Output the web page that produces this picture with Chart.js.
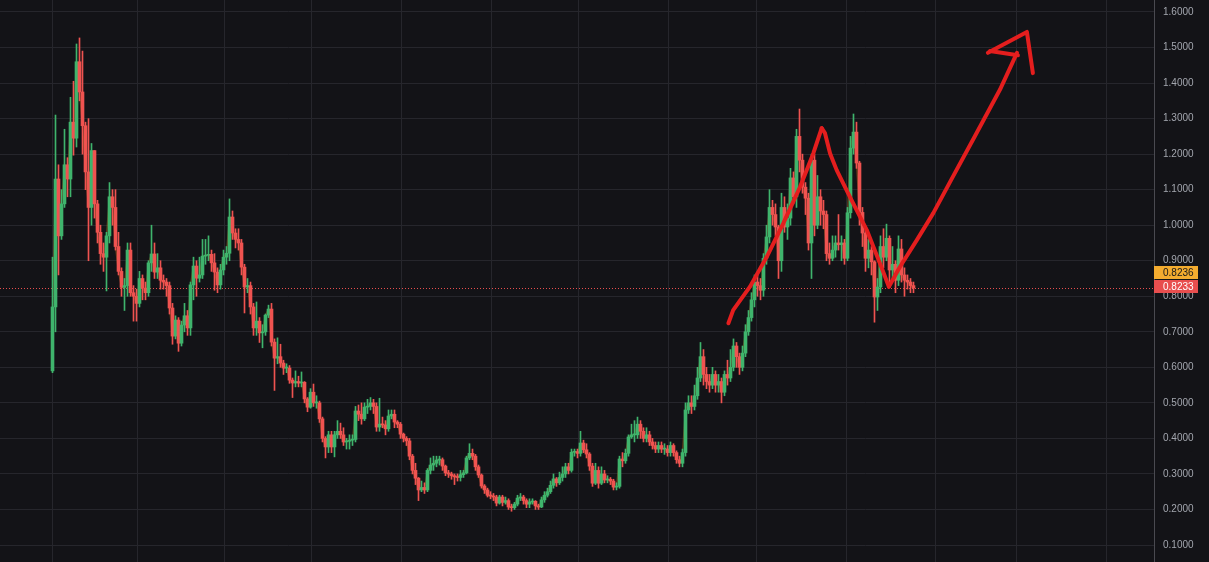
<!DOCTYPE html>
<html>
<head>
<meta charset="utf-8">
<script src="https://cdn.jsdelivr.net/npm/chart.js@4.4.1/dist/chart.umd.min.js"></script>
<style>
  html, body { margin: 0; padding: 0; background: #131317; }
  #wrap { width: 1209px; height: 562px; position: relative; background: #131317; }
</style>
</head>
<body>
<div id="wrap"><canvas id="priceChart"></canvas></div>
<script>
// daily candles (open of each candle = previous close)
const firstOpen = 0.59;
const closes = [
  0.77, 1.13, 0.97, 1.06, 1.17, 1.13, 1.29, 1.245, 1.46, 1.375,
  1.28, 1.15, 1.05, 1.21, 1.06, 0.98, 0.92, 0.91, 0.97, 1.08,
  1.05, 0.94, 0.87, 0.825, 0.83, 0.93, 0.81, 0.80, 0.78, 0.85,
  0.823, 0.81, 0.894, 0.919, 0.868, 0.88, 0.845, 0.84, 0.83, 0.767,
  0.688, 0.733, 0.668, 0.719, 0.745, 0.711, 0.832, 0.885, 0.851, 0.86,
  0.913, 0.915, 0.918, 0.894, 0.868, 0.832, 0.874, 0.91, 0.921, 1.023,
  0.978, 0.96, 0.95, 0.882, 0.826, 0.83, 0.77, 0.711, 0.73, 0.697,
  0.70, 0.747, 0.764, 0.671, 0.626, 0.63, 0.612, 0.598, 0.598, 0.564,
  0.556, 0.56, 0.556, 0.558, 0.511, 0.488, 0.53, 0.50, 0.50, 0.455,
  0.40, 0.376, 0.41, 0.376, 0.41, 0.42, 0.41, 0.39, 0.392, 0.395,
  0.397, 0.477, 0.468, 0.455, 0.488, 0.49, 0.50, 0.49, 0.432, 0.44,
  0.438, 0.427, 0.463, 0.468, 0.446, 0.44, 0.412, 0.40, 0.393, 0.35,
  0.31, 0.288, 0.255, 0.262, 0.255, 0.31, 0.325, 0.33, 0.339, 0.34,
  0.322, 0.303, 0.30, 0.295, 0.292, 0.29, 0.298, 0.303, 0.345, 0.358,
  0.35, 0.32, 0.297, 0.266, 0.255, 0.24, 0.238, 0.235, 0.218, 0.235,
  0.22, 0.225, 0.207, 0.205, 0.215, 0.232, 0.235, 0.225, 0.215, 0.221,
  0.223, 0.21, 0.207, 0.227, 0.24, 0.25, 0.268, 0.286, 0.275, 0.29,
  0.30, 0.32, 0.31, 0.361, 0.363, 0.358, 0.387, 0.368, 0.356, 0.322,
  0.274, 0.31, 0.274, 0.30, 0.283, 0.285, 0.28, 0.263, 0.265, 0.342,
  0.337, 0.358, 0.404, 0.41, 0.41, 0.44, 0.42, 0.40, 0.41, 0.39,
  0.38, 0.37, 0.38, 0.37, 0.37, 0.36, 0.38, 0.36, 0.34, 0.33,
  0.36, 0.48, 0.50, 0.49, 0.52, 0.57, 0.63, 0.58, 0.56, 0.55,
  0.58, 0.55, 0.56, 0.53, 0.58, 0.57, 0.60, 0.66, 0.63, 0.60,
  0.64, 0.70, 0.74, 0.79, 0.84, 0.83, 0.817, 0.907, 0.967, 1.05,
  1.03, 0.995, 0.90, 1.05, 0.995, 1.02, 1.133, 1.08, 1.25, 1.183,
  1.107, 1.076, 0.95, 1.183, 1.0, 1.08, 1.04, 1.03, 0.92, 0.907,
  0.93, 0.95, 0.945, 0.95, 0.907, 1.035, 1.217, 1.262, 1.175, 1.036,
  0.978, 0.907, 0.93, 0.897, 0.798, 0.826, 0.94, 0.91, 0.963, 0.874,
  0.89, 0.845, 0.933, 0.86, 0.845, 0.84, 0.83, 0.8233
];
const highs = [
  0.91, 1.31, 1.17, 1.10, 1.27, 1.19, 1.36, 1.405, 1.51, 1.527,
  1.49, 1.29, 1.30, 1.23, 1.21, 1.07, 1.0, 0.95, 0.98, 1.12,
  1.10, 1.10, 0.98, 0.88, 0.85, 0.95, 0.95, 0.83, 0.82, 0.87,
  0.86, 0.84, 0.90, 1.0, 0.95, 0.92, 0.90, 0.86, 0.85, 0.84,
  0.78, 0.745, 0.74, 0.73, 0.78, 0.76, 0.84, 0.91, 0.90, 0.91,
  0.96, 0.96, 0.97, 0.93, 0.92, 0.88, 0.89, 0.93, 0.94, 1.074,
  1.04, 0.99, 0.99, 0.96, 0.89, 0.85, 0.84, 0.78, 0.784, 0.74,
  0.72, 0.75, 0.775, 0.78, 0.68, 0.683, 0.665, 0.62, 0.61, 0.605,
  0.57, 0.59, 0.575, 0.587, 0.56, 0.515, 0.54, 0.553, 0.52, 0.505,
  0.46, 0.405, 0.42, 0.42, 0.42, 0.45, 0.443, 0.43, 0.40, 0.41,
  0.41, 0.49, 0.494, 0.50, 0.50, 0.51, 0.515, 0.51, 0.50, 0.513,
  0.46, 0.45, 0.48, 0.48, 0.48, 0.45, 0.445, 0.415, 0.405, 0.40,
  0.355, 0.33, 0.29, 0.28, 0.275, 0.315, 0.345, 0.35, 0.35, 0.35,
  0.345, 0.325, 0.31, 0.305, 0.30, 0.30, 0.31, 0.31, 0.35, 0.385,
  0.37, 0.355, 0.325, 0.30, 0.27, 0.26, 0.25, 0.245, 0.24, 0.24,
  0.24, 0.235, 0.23, 0.215, 0.22, 0.24, 0.245, 0.24, 0.23, 0.23,
  0.23, 0.225, 0.215, 0.235, 0.25, 0.26, 0.28, 0.30, 0.29, 0.305,
  0.32, 0.33, 0.33, 0.37, 0.37, 0.37, 0.42, 0.395, 0.385, 0.36,
  0.33, 0.33, 0.32, 0.32, 0.31, 0.295, 0.29, 0.285, 0.275, 0.35,
  0.36, 0.37, 0.41, 0.44, 0.45, 0.46, 0.45, 0.43, 0.43, 0.42,
  0.40, 0.39, 0.39, 0.39, 0.385, 0.38, 0.39, 0.385, 0.365, 0.35,
  0.37, 0.50, 0.52, 0.52, 0.55, 0.60, 0.67, 0.65, 0.60, 0.58,
  0.60, 0.59, 0.58, 0.57, 0.59, 0.62, 0.65, 0.68, 0.67, 0.64,
  0.66, 0.72, 0.76, 0.81, 0.86, 0.86, 0.85, 0.92, 1.0, 1.10,
  1.07, 1.06, 1.0, 1.09, 1.08, 1.06, 1.16, 1.15, 1.27, 1.327,
  1.20, 1.12, 1.09, 1.20, 1.20, 1.14, 1.10, 1.07, 1.04, 0.95,
  0.97, 0.97, 1.03, 0.97, 0.96, 1.05, 1.25, 1.313, 1.29, 1.18,
  1.05, 0.99, 0.96, 0.94, 0.90, 0.85, 0.97, 0.99, 1.003, 0.97,
  0.94, 0.90, 0.97, 0.96, 0.88, 0.86, 0.85, 0.84
];
const lows = [
  0.585, 0.70, 0.86, 0.96, 1.05, 1.08, 1.08, 1.197, 1.22, 1.35,
  1.20, 1.10, 0.90, 1.0, 1.02, 0.95, 0.89, 0.87, 0.815, 0.95,
  1.0, 0.93, 0.86, 0.80, 0.76, 0.80, 0.80, 0.73, 0.73, 0.77,
  0.79, 0.79, 0.80, 0.87, 0.85, 0.85, 0.82, 0.82, 0.80, 0.75,
  0.665, 0.68, 0.645, 0.66, 0.70, 0.69, 0.69, 0.79, 0.80, 0.84,
  0.85, 0.89, 0.90, 0.87, 0.817, 0.81, 0.82, 0.86, 0.89, 0.90,
  0.96, 0.936, 0.93, 0.86, 0.753, 0.81, 0.75, 0.69, 0.69, 0.67,
  0.655, 0.69, 0.74, 0.66, 0.535, 0.61, 0.60, 0.58, 0.585, 0.555,
  0.515, 0.545, 0.545, 0.545, 0.50, 0.475, 0.485, 0.49, 0.485, 0.445,
  0.39, 0.345, 0.36, 0.36, 0.348, 0.40, 0.40, 0.38, 0.37, 0.37,
  0.38, 0.39, 0.45, 0.44, 0.45, 0.47, 0.48, 0.47, 0.42, 0.42,
  0.43, 0.41, 0.42, 0.455, 0.43, 0.43, 0.40, 0.39, 0.38, 0.34,
  0.30, 0.27, 0.225, 0.25, 0.245, 0.25, 0.30, 0.31, 0.32, 0.325,
  0.31, 0.295, 0.29, 0.285, 0.27, 0.28, 0.28, 0.29, 0.30, 0.34,
  0.34, 0.31, 0.29, 0.26, 0.245, 0.235, 0.23, 0.225, 0.21, 0.215,
  0.21, 0.215, 0.20, 0.195, 0.20, 0.21, 0.225, 0.215, 0.205, 0.205,
  0.215, 0.20, 0.20, 0.205, 0.22, 0.235, 0.245, 0.26, 0.265, 0.27,
  0.28, 0.29, 0.30, 0.305, 0.35, 0.345, 0.35, 0.36, 0.345, 0.31,
  0.265, 0.27, 0.26, 0.27, 0.275, 0.275, 0.27, 0.255, 0.255, 0.26,
  0.32, 0.33, 0.35, 0.40, 0.39, 0.40, 0.40, 0.39, 0.39, 0.38,
  0.37, 0.36, 0.36, 0.36, 0.355, 0.35, 0.35, 0.35, 0.33, 0.32,
  0.32, 0.35, 0.47, 0.47, 0.48, 0.51, 0.56, 0.55, 0.54, 0.53,
  0.54, 0.53, 0.53, 0.50, 0.52, 0.55, 0.56, 0.59, 0.60, 0.58,
  0.59, 0.63, 0.69, 0.73, 0.77, 0.80, 0.79, 0.80, 0.89, 0.95,
  1.0, 0.97, 0.85, 0.87, 0.98, 0.96, 1.0, 1.06, 1.05, 1.15,
  1.09, 1.03, 0.93, 0.85, 0.97, 0.99, 1.0, 0.99, 0.90, 0.89,
  0.90, 0.91, 0.93, 0.90, 0.89, 0.90, 1.02, 1.20, 1.16, 1.0,
  0.94, 0.87, 0.88, 0.86, 0.727, 0.76, 0.81, 0.88, 0.90, 0.83,
  0.85, 0.81, 0.83, 0.84, 0.80, 0.82, 0.81, 0.81
];

const priceTicks = [0.1, 0.2, 0.3, 0.4, 0.5, 0.6, 0.7, 0.8, 0.9, 1.0, 1.1, 1.2, 1.3, 1.4, 1.5, 1.6];
// month boundaries, in candle units
const monthLines = [0, 28.2, 57.5, 86.5, 116.5, 146.5, 175.5, 205.2, 234.8, 264.8, 294.5, 321.5, 351.5];
const lastPrice = 0.8233;
const markPrice = 0.8236;

// hand drawn red arrow (candle index, price)
const arrowUp1 = [[225.3, 0.724], [226.9, 0.761], [232.5, 0.827], [238.1, 0.911], [243.6, 1.005], [249.2, 1.108], [253.6, 1.202], [256.4, 1.273]];
const arrowDown = [[256.4, 1.273], [257.5, 1.259], [259.2, 1.202], [261.4, 1.155], [265.8, 1.080], [271.4, 0.987], [275.8, 0.893], [278.8, 0.827]];
const arrowUp2 = [[278.8, 0.827], [282.5, 0.883], [288.1, 0.958], [293.6, 1.034], [299.2, 1.122], [307.5, 1.251], [315.8, 1.381], [321.5, 1.485]];
const arrowHead = [[311.8, 1.485], [324.8, 1.544], [326.8, 1.428]];
const arrowBase = [[312.5, 1.49], [321.8, 1.478]];

const GREEN = '#3fb46c';
const RED = '#ef5350';
const GRID = '#26262c';

const opens = closes.map((c, i) => i === 0 ? firstOpen : closes[i - 1]);
const candleColors = closes.map((c, i) => c >= opens[i] ? GREEN : RED);
const toPts = arr => arr.map(p => ({ x: p[0], y: p[1] }));

function arrowSet(points) {
    return {
        type: 'line',
        data: toPts(points),
        borderColor: '#e41e1e',
        borderWidth: 4,
        borderCapStyle: 'round',
        borderJoinStyle: 'round',
        pointRadius: 0,
        tension: 0,
        order: 0
    };
}

function drawTag(ctx, x, top, bg, fg, text) {
    ctx.fillStyle = bg;
    ctx.fillRect(x, top, 44, 13);
    ctx.fillStyle = fg;
    ctx.font = '10px "Liberation Sans", Arial, sans-serif';
    ctx.textAlign = 'left';
    ctx.textBaseline = 'middle';
    ctx.fillText(text, x + 9, top + 7);
}

// dotted last-price line + the two price tags on the axis
const priceTags = {
    id: 'priceTags',
    beforeDatasetsDraw(chart) {
        const { ctx, chartArea, scales } = chart;
        const y = Math.round(scales.y.getPixelForValue(lastPrice)) + 0.5;
        ctx.save();
        ctx.strokeStyle = '#e84e4e';
        ctx.lineWidth = 1;
        ctx.setLineDash([1, 2]);
        ctx.beginPath();
        ctx.moveTo(chartArea.left, y);
        ctx.lineTo(chartArea.right, y);
        ctx.stroke();
        ctx.restore();
    },
    afterDraw(chart) {
        const { ctx, chartArea, scales } = chart;
        const y = Math.round(scales.y.getPixelForValue(lastPrice));
        ctx.save();
        drawTag(ctx, chartArea.right, y - 8, '#e84e4e', '#ffffff', lastPrice.toFixed(4));
        drawTag(ctx, chartArea.right, y - 22, '#f4ac2f', '#17171a', markPrice.toFixed(4));
        ctx.restore();
    }
};

const ctx = document.getElementById('priceChart').getContext('2d');
new Chart(ctx, {
    type: 'bar',
    data: {
        datasets: [
            arrowSet(arrowUp1),
            arrowSet(arrowDown),
            arrowSet(arrowUp2),
            arrowSet(arrowHead),
            arrowSet(arrowBase),
            {
                // bodies
                data: closes.map((c, i) => ({ x: i, y: [opens[i], c] })),
                backgroundColor: candleColors,
                barThickness: 3,
                minBarLength: 1,
                grouped: false,
                order: 1
            },
            {
                // wicks
                data: closes.map((c, i) => ({ x: i, y: [lows[i], highs[i]] })),
                backgroundColor: candleColors,
                barThickness: 1,
                grouped: false,
                order: 2
            },
            {
                type: 'line',
                data: closes.map((c, i) => ({ x: i, y: c })),
                borderColor: 'rgba(200, 115, 25, 0.4)',
                borderWidth: 1.5,
                pointRadius: 0,
                order: 3
            }
        ]
    },
    options: {
        responsive: true,
        maintainAspectRatio: false,
        animation: false,
        events: [],
        layout: { padding: 0 },
        plugins: { legend: { display: false }, tooltip: { enabled: false } },
        scales: {
            x: {
                type: 'linear',
                offset: false,
                min: -17.5,
                max: 367.17,
                ticks: { display: false },
                grid: { color: GRID, drawTicks: false, offset: false },
                border: { display: false },
                afterBuildTicks: s => { s.ticks = monthLines.map(v => ({ value: v })); },
                afterFit: s => { s.height = 0; s.paddingLeft = 0; s.paddingRight = 0; }
            },
            y: {
                position: 'right',
                min: 0.05216,
                max: 1.63377,
                grid: { color: GRID, drawTicks: false },
                border: { display: true, color: '#4a4a50', width: 1 },
                ticks: {
                    autoSkip: false,
                    padding: 9,
                    color: '#a3a6ae',
                    font: { family: '"Liberation Sans", Arial, sans-serif', size: 10 },
                    callback: v => Number(v).toFixed(4)
                },
                afterBuildTicks: s => { s.ticks = priceTicks.map(v => ({ value: v })); },
                afterFit: s => { s.width = 55; s.paddingTop = 0; s.paddingBottom = 0; }
            }
        }
    },
    plugins: [priceTags]
});
</script>
</body>
</html>
